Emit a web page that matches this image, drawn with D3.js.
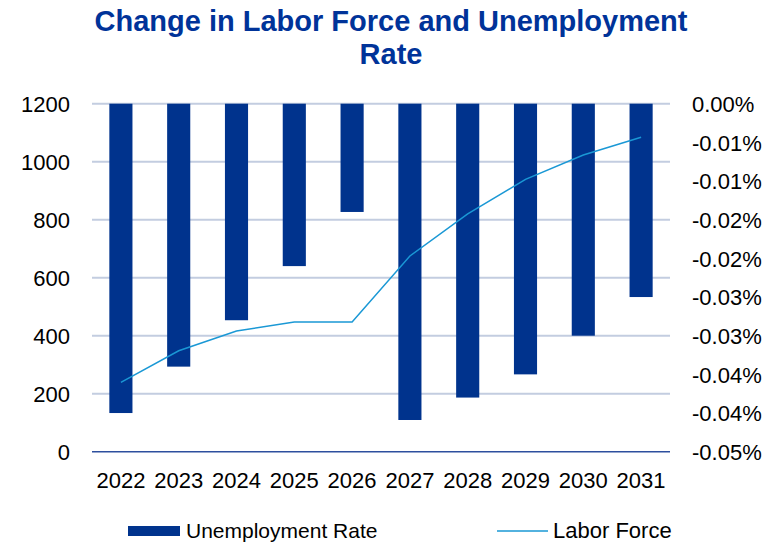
<!DOCTYPE html>
<html>
<head>
<meta charset="utf-8">
<script src="https://cdn.jsdelivr.net/npm/d3@7"></script>
<style>
  body { margin: 0; background: #fff; }
  text { font-family: "Liberation Sans", Arial, sans-serif; }
</style>
</head>
<body>
<div id="chart"></div>
<script>
var years = ['2022', '2023', '2024', '2025', '2026', '2027', '2028', '2029', '2030', '2031'];
// unemployment rate change, in percent
var unemployment = [-0.0400, -0.0340, -0.0280, -0.0210, -0.0140, -0.0409, -0.0380, -0.0350, -0.0300, -0.0250];
// labor force change
var laborForce = [239, 348, 416, 447, 447, 675, 820, 939, 1023, 1084];
var leftTicks = [0, 200, 400, 600, 800, 1000, 1200];
var rightTicks = [0, -0.005, -0.01, -0.015, -0.02, -0.025, -0.03, -0.035, -0.04, -0.045];

var w = 781,
  h = 543,
  plotLeft = 92,
  plotRight = 670,
  plotTop = 103.7,
  plotBottom = 451.7;

var svg = d3.select('#chart').append('svg')
  .attr('width', w)
  .attr('height', h);

var x = d3.scaleBand().domain(years).range([plotLeft, plotRight]).paddingInner(0.6).paddingOuter(0.3);
var yL = d3.scaleLinear().domain([0, 1200]).range([plotBottom, plotTop]);
var yR = d3.scaleLinear().domain([0, -0.045]).range([plotTop, plotBottom]);

// title
svg.append('text')
  .attr('x', 391).attr('y', 31)
  .attr('text-anchor', 'middle')
  .attr('font-size', 29).attr('font-weight', 'bold')
  .attr('fill', '#003399')
  .text('Change in Labor Force and Unemployment');
svg.append('text')
  .attr('x', 391).attr('y', 64)
  .attr('text-anchor', 'middle')
  .attr('font-size', 29).attr('font-weight', 'bold')
  .attr('fill', '#003399')
  .text('Rate');

// gridlines
svg.selectAll('.grid')
  .data(leftTicks.slice(1))
  .enter().append('line')
  .attr('class', 'grid')
  .attr('x1', plotLeft).attr('x2', plotRight)
  .attr('y1', function(d) { return yL(d); })
  .attr('y2', function(d) { return yL(d); })
  .attr('stroke', '#c3cde0')
  .attr('stroke-width', 2);

// bars
svg.selectAll('.bar')
  .data(unemployment)
  .enter().append('rect')
  .attr('class', 'bar')
  .attr('x', function(d, i) { return x(years[i]); })
  .attr('y', yR(0))
  .attr('width', x.bandwidth())
  .attr('height', function(d) { return yR(d) - yR(0); })
  .attr('fill', '#00338d');

// baseline
svg.append('line')
  .attr('x1', plotLeft).attr('x2', plotRight)
  .attr('y1', yL(0)).attr('y2', yL(0))
  .attr('stroke', '#2d4f9e')
  .attr('stroke-width', 1.5);

// labor force line
var line = d3.line()
  .x(function(d, i) { return x(years[i]) + x.bandwidth() / 2; })
  .y(function(d) { return yL(d); });

svg.append('path')
  .datum(laborForce)
  .attr('d', line)
  .attr('fill', 'none')
  .attr('stroke', '#1a98d5')
  .attr('stroke-width', 1.5);

// left axis
var axisL = svg.append('g')
  .attr('transform', 'translate(' + 70 + ',0)')
  .call(d3.axisLeft(yL).tickValues(leftTicks).tickSize(0).tickPadding(0).tickFormat(d3.format('d')));
axisL.select('.domain').remove();
axisL.selectAll('text').attr('font-size', 22).attr('fill', '#000').attr('dy', '0.36em');

// right axis, labels rounded half away from zero like the original
function pct(d) {
  var v = Math.round(Math.abs(d) * 100 + 1e-9) / 100;
  return (d < 0 ? '-' : '') + v.toFixed(2) + '%';
}
var axisR = svg.append('g')
  .attr('transform', 'translate(' + 692 + ',0)')
  .call(d3.axisRight(yR).tickValues(rightTicks).tickSize(0).tickPadding(0).tickFormat(pct));
axisR.select('.domain').remove();
axisR.selectAll('text').attr('font-size', 22).attr('fill', '#000').attr('dy', '0.36em');

// x axis labels
svg.selectAll('.xlab')
  .data(years)
  .enter().append('text')
  .attr('class', 'xlab')
  .attr('x', function(d) { return x(d) + x.bandwidth() / 2; })
  .attr('y', 488)
  .attr('text-anchor', 'middle')
  .attr('font-size', 22)
  .text(function(d) { return d; });

// legend
svg.append('rect')
  .attr('x', 128).attr('y', 526)
  .attr('width', 52).attr('height', 10)
  .attr('fill', '#00338d');
svg.append('text')
  .attr('x', 186).attr('y', 538)
  .attr('font-size', 21)
  .text('Unemployment Rate');
svg.append('line')
  .attr('x1', 497).attr('x2', 548)
  .attr('y1', 531).attr('y2', 531)
  .attr('stroke', '#1a98d5')
  .attr('stroke-width', 1.5);
svg.append('text')
  .attr('x', 553).attr('y', 538)
  .attr('font-size', 22)
  .text('Labor Force');
</script>
</body>
</html>
